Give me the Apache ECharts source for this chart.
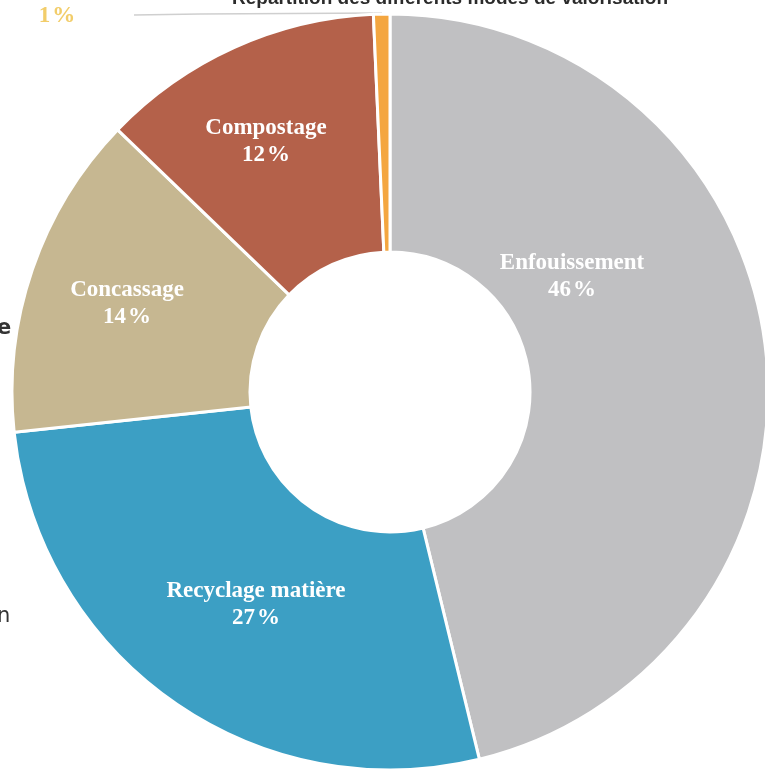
<!DOCTYPE html>
<html>
<head>
<meta charset="utf-8">
<script src="https://cdn.jsdelivr.net/npm/echarts@6/dist/echarts.min.js"></script>
<style>
  html, body { margin: 0; padding: 0; background: #ffffff; }
  #chart { width: 765px; height: 775px; }
</style>
</head>
<body>
<div id="chart"></div>
<script>
// Modes de traitement des déchets (part en %)
const categories = ['Enfouissement', 'Recyclage matière', 'Concassage', 'Compostage', 'Valorisation énergétique'];
const shares = [46.2, 27.1, 13.9, 12.1, 0.7];

// Slice colours, in the same order as the categories
const sliceColors = ['#c0c0c2', '#3c9fc4', '#c6b791', '#b4614a', '#f4a640'];

// Label anchor points (px) for each slice, and the leader path of the small slice
const labelSpots = [[572, 277], [256, 605], [127, 304], [266, 142], [57, 3]];
const smallLeader = [[382, 13], [200, 14], [134, 15]];

const labelFont = {
  fontFamily: '"Liberation Serif", "Times New Roman", serif',
  fontWeight: 'bold',
  fontSize: 23,
  lineHeight: 27,
  align: 'center'
};

const chart = echarts.init(document.getElementById('chart'), null, { renderer: 'canvas' });

const seriesData = categories.map((name, i) => {
  const inside = i < 4;
  return {
    name: name,
    value: shares[i],
    itemStyle: { color: sliceColors[i] },
    label: Object.assign({
      show: true,
      position: inside ? 'inside' : 'outside',
      color: inside ? '#ffffff' : '#f2cd6a'
    }, labelFont),
    labelLine: inside ? { show: false } : {
      show: true,
      lineStyle: { color: '#cfcfcf', width: 1.5 }
    }
  };
});

chart.setOption({
  animation: false,
  backgroundColor: '#ffffff',
  graphic: [
    {
      type: 'text',
      left: 232,
      top: -11,
      style: {
        text: 'Répartition des différents modes de valorisation',
        font: 'bold 19px "Liberation Sans", Arial, sans-serif',
        fill: '#2b2b2b'
      }
    },
    {
      type: 'text',
      left: -3,
      top: 318,
      style: { text: 'e', font: 'bold 21px "DejaVu Sans", sans-serif', fill: '#333333' }
    },
    {
      type: 'text',
      left: -3,
      top: 606,
      style: { text: 'n', font: '21px "DejaVu Sans", sans-serif', fill: '#333333' }
    }
  ],
  series: [{
    type: 'pie',
    center: [390, 392],
    radius: [140, 378],
    startAngle: 90,
    clockwise: true,
    avoidLabelOverlap: false,
    itemStyle: { borderColor: '#ffffff', borderWidth: 3 },
    label: Object.assign({
      formatter: p => p.name + '\n' + Math.round(p.value) + '\u200A%'
    }, labelFont),
    emphasis: { disabled: true },
    labelLayout: function (params) {
      const spot = labelSpots[params.dataIndex];
      const out = {
        x: spot[0],
        y: spot[1],
        align: 'center',
        verticalAlign: 'middle'
      };
      if (params.dataIndex === 4) {
        out.labelLinePoints = smallLeader;
      }
      return out;
    },
    data: seriesData
  }]
});
</script>
</body>
</html>
